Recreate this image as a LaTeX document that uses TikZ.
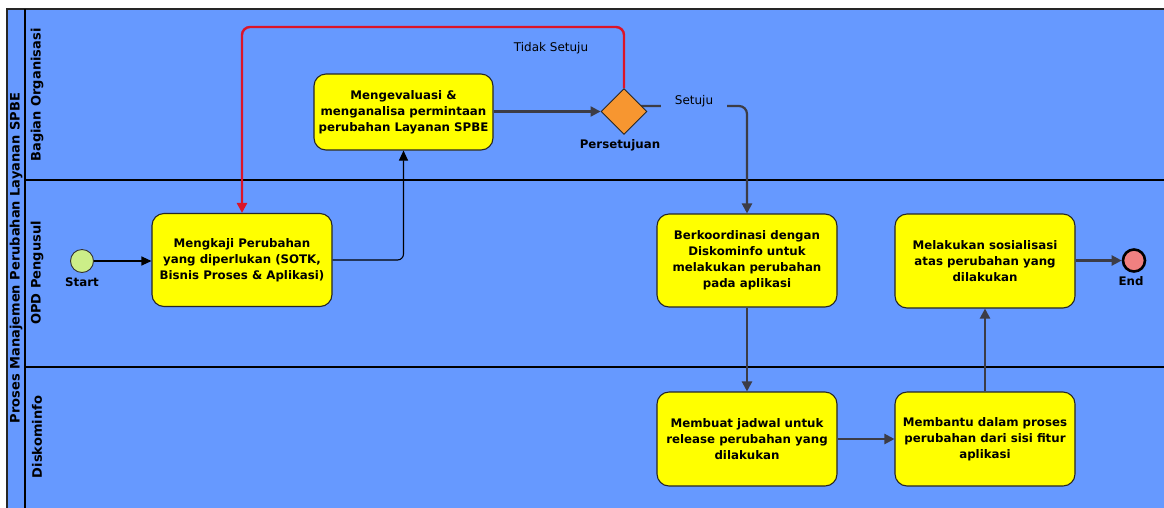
\documentclass[tikz,border=0pt]{standalone}
\usepackage{fontspec}
\setmainfont{DejaVu Sans}
\usetikzlibrary{shapes.geometric,arrows.meta,backgrounds}

\definecolor{lanebg}{RGB}{102,153,255}
\definecolor{taskfill}{RGB}{255,255,0}
\definecolor{gatefill}{RGB}{247,150,48}
\definecolor{startfill}{RGB}{204,238,136}
\definecolor{endfill}{RGB}{240,128,128}
\definecolor{flowgray}{RGB}{60,60,70}
\definecolor{rejectred}{RGB}{220,20,40}

\tikzset{
  task/.style={draw=black!85, line width=1.1pt, fill=taskfill, rounded corners=12pt,
    minimum width=180pt, align=center, font=\fontsize{11.8}{16}\selectfont\bfseries, inner sep=2pt},
  gate/.style={diamond, draw=black!85, line width=0.9pt, fill=gatefill, minimum size=46pt, inner sep=0pt},
  startev/.style={circle, draw=black!80, line width=0.9pt, fill=startfill, minimum size=23pt, inner sep=0pt},
  endev/.style={circle, draw=black, line width=2.6pt, fill=endfill, minimum size=22pt, inner sep=0pt},
  evlabel/.style={font=\fontsize{11.8}{14}\selectfont\bfseries, inner sep=1pt},
  flowlabel/.style={font=\fontsize{12}{14}\selectfont, inner sep=1pt},
  lanelabel/.style={rotate=90, font=\fontsize{13}{15}\selectfont\bfseries, inner sep=0pt},
  thinflow/.style={draw=black, line width=1.1pt, -{Triangle[length=10pt,width=9pt]}, rounded corners=6pt},
  flow/.style={draw=flowgray, line width=2.2pt, -{Triangle[length=10pt,width=10pt]}, rounded corners=8pt},
  reject/.style={draw=rejectred, line width=2.4pt, -{Triangle[length=10pt,width=10pt]}, rounded corners=8pt},
}

\begin{document}
\begin{tikzpicture}[x=1pt, y=-1pt]
  \useasboundingbox (0,0) rectangle (1164,507);
  \clip (0,0) rectangle (1164,507);

  % events and gateway
  \node[startev] (start) at (82,261) {};
  \node[evlabel] (startlbl) at (82,282) {Start};
  \node[endev] (end) at (1134,260.5) {};
  \node[evlabel] (endlbl) at (1131,281) {End};
  \node[gate] (gw) at (624,111.5) {};
  \node[evlabel] (gwlbl) at (620,145) {Persetujuan};

  % tasks
  \node[task, minimum height=93pt] (t1) at (242,260)
    {Mengkaji Perubahan\\yang diperlukan (SOTK,\\Bisnis Proses \& Aplikasi)};
  \node[task, minimum width=179pt, minimum height=76pt] (t2) at (403.5,112)
    {Mengevaluasi \&\\menganalisa permintaan\\perubahan Layanan SPBE};
  \node[task, minimum height=93pt] (t3) at (747,260.5)
    {Berkoordinasi dengan\\Diskominfo untuk\\melakukan perubahan\\pada aplikasi};
  \node[task, minimum height=94pt] (t4) at (985,261)
    {Melakukan sosialisasi\\atas perubahan yang\\dilakukan};
  \node[task, minimum height=94pt] (t5) at (747,439)
    {Membuat jadwal untuk\\release perubahan yang\\dilakukan};
  \node[task, minimum height=94pt] (t6) at (985,439)
    {Membantu dalam proses\\perubahan dari sisi fitur\\aplikasi};

  \coordinate (rtop) at (624,27);
  \coordinate (setujuturn) at (747,106);

  % pool, lanes and the flow that starts behind the gateway
  \begin{scope}[on background layer]
    \fill[white] (0,0) rectangle (1164,507);
    \draw[fill=lanebg, line width=1.3pt, draw=black!85] (7,9) rectangle (1180,520);
    \draw[line width=1.1pt] (25,9) -- (25,520);
    \draw[line width=1.1pt] (25,180) -- (1180,180);
    \draw[line width=1.1pt] (25,367) -- (1180,367);
    \node[lanelabel] (pool) at (16,258) {Proses Manajemen Perubahan Layanan SPBE};
    \node[lanelabel] (lane1) at (37,95) {Bagian Organisasi};
    \node[lanelabel] (lane2) at (37,273) {OPD Pengusul};
    \node[lanelabel] (lane3) at (37,437) {Diskominfo};
    \draw[flow] (gw.center |- setujuturn) -- (setujuturn) -- (t3.north);
  \end{scope}

  % sequence flows
  \draw[thinflow] (start) -- (start -| t1.west);
  \draw[thinflow] (t1.east) -| (t2.south);
  \draw[flow] (t2.east |- gw) -- (gw.west);
  \draw[reject] (gw.north) -- (rtop) -| (t1.north);
  \draw[flow] (t3.south) -- (t5.north);
  \draw[flow] (t5) -- (t6);
  \draw[flow] (t6.north) -- (t4.south);
  \draw[flow] (t4.east |- end) -- (end.west);

  % flow labels
  \node[flowlabel] (nolbl) at (551,48) {Tidak Setuju};
  \node[flowlabel, fill=lanebg, inner xsep=14pt, inner ysep=4pt] (yeslbl) at (694,101) {Setuju};
\end{tikzpicture}
\end{document}
